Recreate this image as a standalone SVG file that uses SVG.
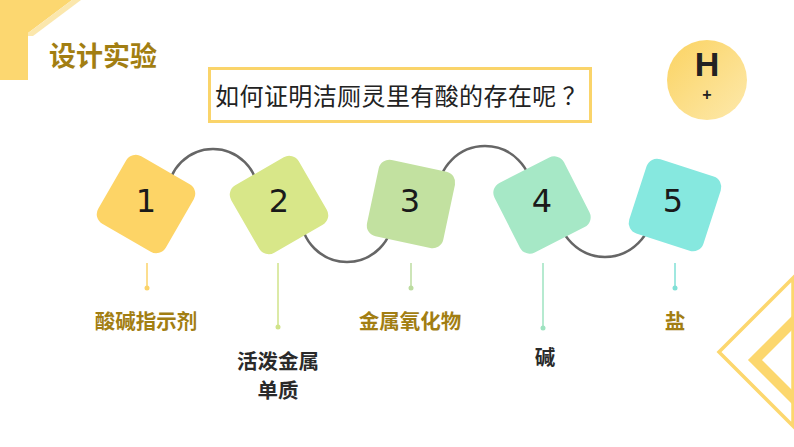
<svg xmlns="http://www.w3.org/2000/svg" width="794" height="447" viewBox="0 0 794 447">
<defs>
<style>
.cjk{font-family:"Noto Sans CJK SC","Noto Sans",sans-serif}
.gold{fill:#a27e12;font-weight:bold;font-size:20.5px}
.dark{fill:#2a2a2a;font-weight:bold;font-size:20.5px}
.num{font-family:"DejaVu Sans",sans-serif;font-size:32px;fill:#1a1a1a;text-anchor:middle}
.arc{fill:none;stroke:#666;stroke-width:2.5}
.sq rect{rx:11px}
</style>
<linearGradient id="hg" x1="0" y1="0" x2="1" y2="1">
<stop offset="0" stop-color="#fbd362"/>
<stop offset="1" stop-color="#fde9ac"/>
</linearGradient>
</defs>
<rect width="794" height="447" fill="#fff"/>
<g id="corner-deco">
<polygon points="0,0 72,0 28,33 28,80 0,80" fill="#fcd770"/>
<polygon points="72,0 81,0 33,36 28,36 28,33" fill="#fbe7ad"/>
</g>
<text id="title" class="cjk" x="49" y="66" font-size="27" font-weight="bold" fill="#a27e12">设计实验</text>
<g id="question">
<rect x="209.5" y="68.5" width="381" height="53" fill="#fff" stroke="#fad46a" stroke-width="3"/>
<text class="cjk" x="401" y="105" font-size="24" letter-spacing="0.4" fill="#222" text-anchor="middle">如何证明洁厕灵里有酸的存在呢 ？</text>
</g>
<g id="hplus">
<circle cx="707" cy="80" r="40" fill="url(#hg)"/>
<text x="707" y="76" font-family="Liberation Sans,Arial,sans-serif" font-weight="bold" font-size="34" fill="#222" text-anchor="middle">H</text>
<text x="707" y="100" font-family="Liberation Sans,Arial,sans-serif" font-weight="bold" font-size="16" fill="#222" text-anchor="middle">+</text>
</g>
<g id="connectors">
<path class="arc" d="M168,194 A45,45 0 0 1 258,194"/>
<path class="arc" d="M301,216 A46,46 0 0 0 393,216"/>
<path class="arc" d="M438,193 A47,47 0 0 1 532,193"/>
<path class="arc" d="M558,210 A47,47 0 0 0 652,210"/>
<g stroke-width="1.5">
<line x1="147" y1="263" x2="147" y2="288" stroke="#fbd36a"/>
<circle cx="147" cy="288" r="2.5" fill="#fbd36a"/>
<line x1="278" y1="263" x2="278" y2="327" stroke="#d0e38a"/>
<circle cx="278" cy="327" r="2.5" fill="#d0e38a"/>
<line x1="411" y1="263" x2="411" y2="288" stroke="#bcdca0"/>
<circle cx="411" cy="288" r="2.5" fill="#bcdca0"/>
<line x1="543" y1="263" x2="543" y2="328" stroke="#9ee3c0"/>
<circle cx="543" cy="328" r="2.5" fill="#9ee3c0"/>
<line x1="675" y1="263" x2="675" y2="288" stroke="#80e0d6"/>
<circle cx="675" cy="288" r="2.5" fill="#80e0d6"/>
</g>
</g>
<g id="node1" class="sq">
<rect x="-39" y="-39" width="78" height="78" transform="translate(146,204) rotate(30)" fill="#fdd466"/>
<text class="num" x="146" y="212">1</text>
<text class="cjk gold" x="146" y="329" text-anchor="middle">酸碱指示剂</text>
</g>
<g id="node2" class="sq">
<rect x="-39" y="-39" width="78" height="78" transform="translate(279,205) rotate(-30)" fill="#d8e789"/>
<text class="num" x="279" y="212">2</text>
<text class="cjk dark" x="278" y="369" text-anchor="middle">活泼金属</text>
<text class="cjk dark" x="278" y="398" text-anchor="middle">单质</text>
</g>
<g id="node3" class="sq">
<rect x="-39" y="-39" width="78" height="78" transform="translate(411,204) rotate(12)" fill="#c2e1a0"/>
<text class="num" x="410" y="212">3</text>
<text class="cjk gold" x="410" y="329" text-anchor="middle">金属氧化物</text>
</g>
<g id="node4" class="sq">
<rect x="-39" y="-39" width="78" height="78" transform="translate(542,205) rotate(-27)" fill="#a6e8c6"/>
<text class="num" x="542" y="212">4</text>
<text class="cjk dark" x="545" y="365" text-anchor="middle">碱</text>
</g>
<g id="node5" class="sq">
<rect x="-39" y="-39" width="78" height="78" transform="translate(675,205) rotate(18)" fill="#86e8df"/>
<text class="num" x="673" y="212">5</text>
<text class="cjk gold" x="675" y="329" text-anchor="middle">盐</text>
</g>
<g id="chevron-deco" fill="none" stroke="#fcd76e">
<polygon points="719,352 793,278 793,426" stroke-width="3.5"/>
<polygon points="755,360 800,315 800,405" stroke-width="10"/>
</g>
</svg>
